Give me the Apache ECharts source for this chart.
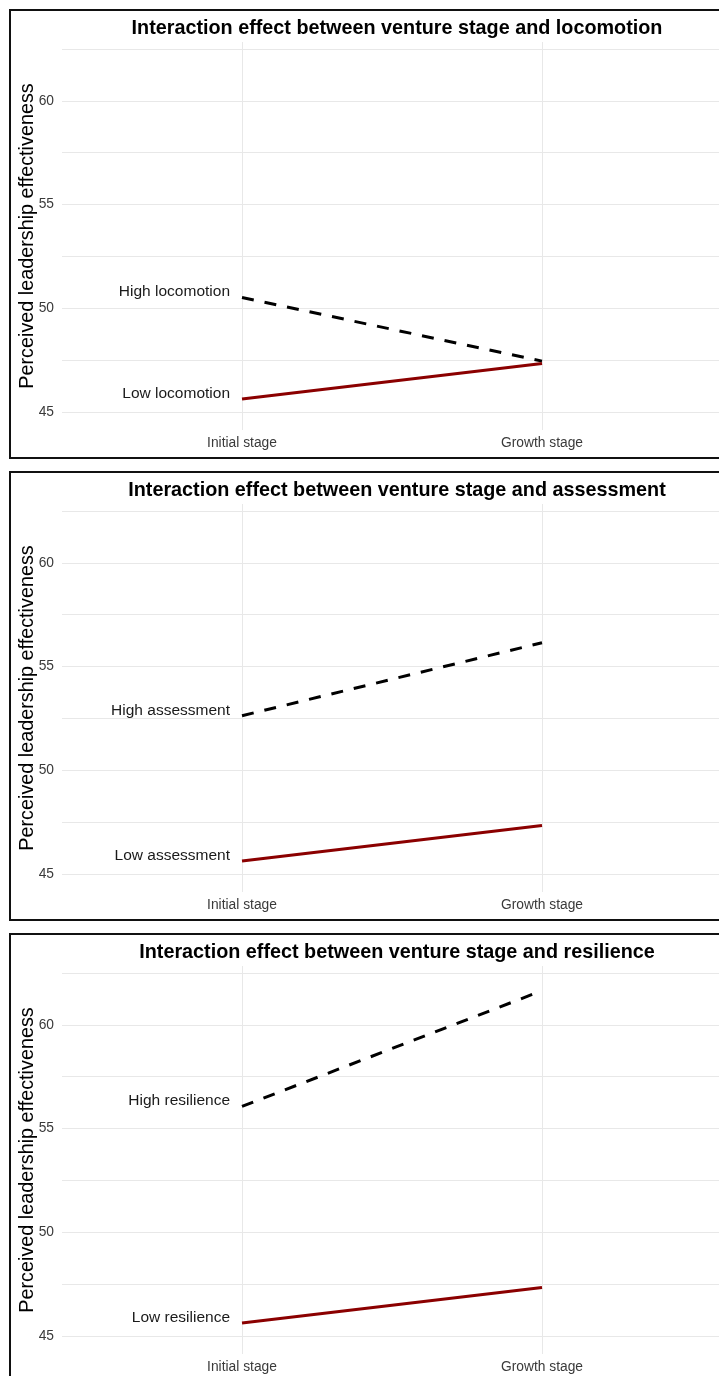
<!DOCTYPE html>
<html>
<head>
<meta charset="utf-8">
<script src="https://cdn.jsdelivr.net/npm/echarts@6/dist/echarts.min.js"></script>
<style>
  body { margin: 0; width: 719px; height: 1376px; overflow: hidden; background: #fff; position: relative; }
  .panel { position: absolute; left: 9px; width: 730px; height: 446px; border: 2px solid #111; }
  .panel div { width: 726px; height: 446px; }
</style>
</head>
<body>
<div class="panel" style="top:9px"><div id="p1"></div></div>
<div class="panel" style="top:471px"><div id="p2"></div></div>
<div class="panel" style="top:933px"><div id="p3"></div></div>
<script>
// data
const stages = ['Initial stage', 'Growth stage'];
const moderators = ['locomotion', 'assessment', 'resilience'];
const highValues = [[50.52, 47.45], [52.63, 56.15], [56.07, 61.65]];
const lowValues = [[45.63, 47.34], [45.63, 47.34], [45.63, 47.34]];
const yLabelTicks = [45, 50, 55, 60];
const yGridTicks = [45, 47.5, 50, 52.5, 55, 57.5, 60, 62.5];
const xTicks = [1, 2];

const font = "'Liberation Sans', Arial, Helvetica, sans-serif";

function makePoints(vals, name) {
  return vals.map(function (v, i) {
    let item = { value: [xTicks[i], v] };
    if (i === 0) {
      item.label = { show: true, formatter: name };
    }
    return item;
  });
}

function drawPanel(id, k) {
  let myChart = echarts.init(document.getElementById(id));
  let mod = moderators[k];
  let option = {
    animation: false,
    textStyle: { fontFamily: font },
    title: {
      text: 'Interaction effect between venture stage and ' + mod,
      left: 381,
      top: 3,
      textAlign: 'center',
      textStyle: { fontFamily: font, fontSize: 19.8, fontWeight: 'bold', color: '#000' }
    },
    grid: { left: 51, top: 31, width: 660, height: 388, outerBoundsMode: 'none', containLabel: false },
    xAxis: {
      type: 'value',
      min: 0.4,
      max: 2.6,
      axisLine: { show: false },
      axisTick: { show: false, customValues: xTicks },
      axisLabel: {
        customValues: xTicks,
        formatter: function (v) { return stages[Math.round(v) - 1]; },
        color: '#3a3a3a',
        fontSize: 13.8,
        fontFamily: font,
        margin: 6
      },
      splitLine: { show: true, lineStyle: { color: '#e8e8e8', width: 1 } }
    },
    yAxis: {
      type: 'value',
      min: 44.13,
      max: 62.84,
      name: 'Perceived leadership effectiveness',
      nameLocation: 'middle',
      nameGap: 24,
      nameMoveOverlap: false,
      nameTextStyle: { fontSize: 19.8, color: '#000', fontFamily: font },
      axisLine: { show: false },
      axisTick: { show: false, customValues: yGridTicks },
      axisLabel: {
        customValues: yLabelTicks,
        color: '#3a3a3a',
        fontSize: 13.8,
        fontFamily: font,
        margin: 8
      },
      splitLine: { show: true, lineStyle: { color: '#e8e8e8', width: 1 } }
    },
    series: [{
      name: 'High ' + mod,
      type: 'line',
      data: makePoints(highValues[k], 'High ' + mod),
      symbol: 'circle',
      symbolSize: 0,
      lineStyle: { color: '#000', width: 3, type: [12, 11] },
      itemStyle: { color: '#000' },
      label: { position: 'left', distance: 12, offset: [0, -5.5], fontSize: 15.5, color: '#1a1a1a', fontFamily: font }
    }, {
      name: 'Low ' + mod,
      type: 'line',
      data: makePoints(lowValues[k], 'Low ' + mod),
      symbol: 'circle',
      symbolSize: 0,
      lineStyle: { color: '#8B0000', width: 3 },
      itemStyle: { color: '#8B0000' },
      label: { position: 'left', distance: 12, offset: [0, -5.5], fontSize: 15.5, color: '#1a1a1a', fontFamily: font }
    }]
  };
  myChart.setOption(option);
  window.addEventListener('resize', function () {
    myChart.resize();
  });
}

drawPanel('p1', 0);
drawPanel('p2', 1);
drawPanel('p3', 2);
</script>
</body>
</html>
